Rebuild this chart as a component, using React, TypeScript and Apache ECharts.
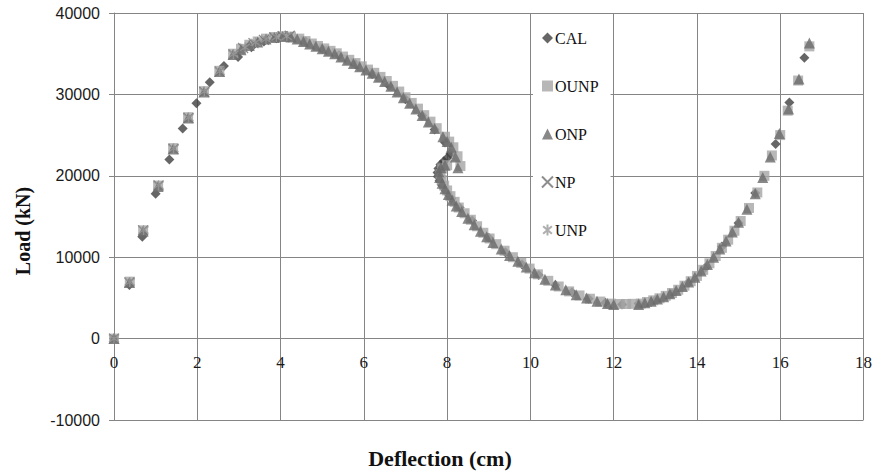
import React, { useEffect, useRef } from "react";
import * as echarts from "echarts";

const xTicks = { min: 0, max: 18, interval: 2 };
const yTicks = { min: -10000, max: 40000, interval: 10000 };

const seriesNames = ["CAL", "OUNP", "ONP", "NP", "UNP"];

const calData: number[][] = [
  [0, 0], [0.37, 6600], [0.68, 12500], [1.0, 17800], [1.33, 22000], [1.65, 25800], [1.98, 28900],
  [2.3, 31500], [2.64, 33500], [2.98, 34600], [3.3, 35800], [3.6, 36500], [3.9, 36900], [4.2, 37000],
  [4.6, 36500], [5.0, 35600], [5.4, 34800], [5.8, 33700], [6.2, 32500], [6.6, 31100], [7.0, 29400],
  [7.4, 27400], [7.7, 25700], [7.95, 24100], [8.08, 22700], [8.0, 22200], [7.92, 21800], [7.84, 21400],
  [7.79, 20900], [7.77, 20400], [7.78, 19900], [7.82, 19400], [7.87, 18900], [7.93, 18400], [8.0, 17900],
  [8.1, 17200], [8.3, 16100], [8.6, 14500], [9.0, 12400], [9.4, 10600], [9.8, 9100], [10.2, 7800],
  [10.6, 6600], [11.0, 5700], [11.4, 4900], [11.8, 4400], [12.2, 4200], [12.6, 4300], [13.0, 4700],
  [13.4, 5500], [13.8, 6900], [14.2, 8700], [14.6, 11300], [15.0, 14200], [15.4, 17900], [15.89, 23900],
  [16.22, 29000], [16.58, 34500],
];

const ounpData: number[][] = [
  [0, 0], [0.38, 7000], [0.7, 13300], [1.06, 18800], [1.42, 23400], [1.78, 27200], [2.16, 30400],
  [2.53, 32900], [2.86, 35000], [3.05, 35600], [3.25, 36100], [3.45, 36500], [3.65, 36850], [3.85, 37050],
  [4.05, 37150], [4.25, 37100], [4.45, 36850], [4.6, 36550], [4.75, 36250], [4.9, 35950], [5.05, 35650],
  [5.2, 35350], [5.35, 35050], [5.5, 34650], [5.65, 34250], [5.8, 33850], [5.95, 33450], [6.1, 33050],
  [6.25, 32650], [6.4, 32150], [6.55, 31650], [6.7, 31050], [6.85, 30350], [7.0, 29650], [7.15, 28950],
  [7.3, 28250], [7.45, 27450], [7.6, 26650], [7.75, 25850], [7.95, 24800], [8.05, 24200], [8.15, 23500],
  [8.25, 22400], [8.32, 21200], [8.0, 21300], [7.88, 20900], [7.84, 20200], [7.87, 19500], [7.93, 18800],
  [8.0, 18200], [8.08, 17500], [8.18, 16800], [8.28, 16100], [8.42, 15400], [8.57, 14600], [8.72, 13800],
  [8.87, 13000], [9.02, 12300], [9.18, 11600], [9.38, 10800], [9.58, 10000], [9.78, 9300], [9.98, 8600],
  [10.18, 7900], [10.43, 7100], [10.68, 6400], [10.93, 5800], [11.18, 5300], [11.43, 4900], [11.68, 4550],
  [11.93, 4300], [12.15, 4250], [12.3, 4250], [12.45, 4270], [12.65, 4300], [12.8, 4500], [12.95, 4700],
  [13.1, 4950], [13.25, 5250], [13.4, 5600], [13.55, 6000], [13.7, 6500], [13.85, 7050], [14.0, 7700],
  [14.15, 8450], [14.3, 9250], [14.45, 10150], [14.6, 11150], [14.75, 12150], [14.9, 13250], [15.05, 14450],
  [15.25, 16050], [15.45, 17950], [15.62, 20000], [15.8, 22500], [16.0, 25000], [16.18, 28000],
  [16.43, 31700], [16.7, 35900],
];

const onpData: number[][] = [
  [0, 0], [0.37, 6900], [0.7, 13200], [1.06, 18700], [1.42, 23300], [1.78, 27100], [2.16, 30300],
  [2.53, 32800], [2.86, 34900], [3.05, 35500], [3.25, 36000], [3.45, 36450], [3.65, 36800], [3.85, 37000],
  [4.05, 37100], [4.25, 37050], [4.4, 36800], [4.55, 36500], [4.7, 36200], [4.85, 35900], [5.0, 35600],
  [5.15, 35300], [5.3, 35000], [5.45, 34600], [5.6, 34200], [5.75, 33800], [5.9, 33400], [6.05, 33000],
  [6.2, 32600], [6.35, 32100], [6.5, 31600], [6.65, 31000], [6.8, 30300], [6.95, 29600], [7.1, 28900],
  [7.25, 28200], [7.4, 27400], [7.55, 26600], [7.7, 25800], [7.9, 24800], [8.0, 24200], [8.1, 23500],
  [8.2, 22300], [8.26, 21000], [7.95, 21300], [7.85, 21000], [7.8, 20500], [7.82, 19800], [7.88, 19100],
  [7.95, 18400], [8.03, 17700], [8.12, 17000], [8.22, 16300], [8.35, 15600], [8.5, 14800], [8.65, 14000],
  [8.8, 13200], [8.95, 12500], [9.1, 11800], [9.3, 11000], [9.5, 10200], [9.7, 9500], [9.9, 8800],
  [10.1, 8100], [10.35, 7300], [10.6, 6600], [10.85, 6000], [11.1, 5400], [11.35, 5000], [11.6, 4600],
  [11.85, 4300], [12.0, 4200], [12.6, 4200], [12.75, 4400], [12.9, 4600], [13.05, 4850], [13.2, 5150],
  [13.35, 5500], [13.5, 5900], [13.65, 6400], [13.8, 6950], [13.95, 7550], [14.1, 8300], [14.25, 9100],
  [14.4, 10000], [14.55, 11000], [14.7, 12000], [14.85, 13100], [15.0, 14300], [15.2, 15900],
  [15.4, 17800], [15.58, 19800], [15.76, 22300], [15.98, 25200], [16.2, 28200], [16.45, 31900],
  [16.7, 36300],
];

const npData: number[][] = [
  [0, 0], [0.37, 6900], [0.7, 13300], [1.07, 18800], [1.43, 23300], [1.79, 27100], [2.17, 30300],
  [2.54, 32800], [2.87, 34900], [3.1, 35700], [3.35, 36300], [3.6, 36700], [3.85, 37000], [4.05, 37150],
  [4.22, 37200],
];

const unpData: number[][] = [
  [0, 0], [0.38, 6950], [0.71, 13350], [1.07, 18850], [1.43, 23350], [1.79, 27150], [2.17, 30350],
  [2.54, 32850], [2.87, 34950], [3.15, 35800], [3.4, 36400], [3.65, 36800], [3.9, 37050], [4.15, 37150],
];

const xTitle = "Deflection (cm)";
const yTitle = "Load (kN)";

const gridColor = "#858585";

export default function App() {
  const ref = useRef<HTMLDivElement>(null);
  useEffect(() => {
    if (!ref.current) return;
    const chart = echarts.init(ref.current, undefined, { renderer: "svg" });
    const gridTop = 13;
    const gridBottomPx = 420;
    const plotH = gridBottomPx - gridTop;
    const zeroOffset = (plotH * (0 - yTicks.min)) / (yTicks.max - yTicks.min);
    const option: any = {
      animation: false,
      backgroundColor: "#ffffff",
      grid: { left: 114, right: 11, top: gridTop, bottom: 471 - gridBottomPx },
      xAxis: {
        type: "value",
        min: xTicks.min,
        max: xTicks.max,
        interval: xTicks.interval,
        offset: -zeroOffset,
        axisLine: { onZero: false, lineStyle: { color: gridColor, width: 1 } },
        axisTick: { show: false },
        axisLabel: {
          margin: 15,
          fontFamily: "Liberation Serif",
          fontSize: 17,
          color: "#1a1a1a",
        },
        splitLine: { show: true, lineStyle: { color: gridColor, width: 1 } },
      },
      yAxis: {
        type: "value",
        min: yTicks.min,
        max: yTicks.max,
        interval: yTicks.interval,
        axisLine: { show: true, onZero: false, lineStyle: { color: gridColor, width: 1 } },
        axisTick: { show: true, length: 5, lineStyle: { color: gridColor } },
        axisLabel: {
          margin: 14,
          fontFamily: "Liberation Sans",
          fontSize: 16,
          color: "#1a1a1a",
          formatter: (v: number) => String(v),
        },
        splitLine: { show: true, lineStyle: { color: gridColor, width: 1 } },
      },
      legend: {
        data: seriesNames,
        orient: "vertical",
        left: 533,
        top: 18,
        padding: [12, 12, 14, 8],
        backgroundColor: "#ffffff",
        itemGap: 32,
        itemWidth: 11,
        itemHeight: 11,
        textStyle: { fontFamily: "Liberation Serif", fontSize: 16, color: "#111", padding: [0, 0, 0, -3] },
      },
      graphic: [
        {
          type: "text",
          x: 23,
          y: 231,
          rotation: Math.PI / 2,
          style: {
            text: yTitle,
            fontFamily: "Liberation Serif",
            fontWeight: "bold",
            fontSize: 20,
            fill: "#111",
            align: "center",
            verticalAlign: "middle",
          },
        },
        {
          type: "text",
          x: 440,
          y: 458,
          style: {
            text: xTitle,
            fontFamily: "Liberation Serif",
            fontWeight: "bold",
            fontSize: 22,
            fill: "#111",
            align: "center",
            verticalAlign: "middle",
          },
        },
      ],
      series: [
        {
          name: "CAL",
          type: "scatter",
          data: calData,
          symbol: "diamond",
          symbolSize: 10,
          itemStyle: { color: "#404040" },
        },
        {
          name: "OUNP",
          type: "scatter",
          data: ounpData,
          symbol: "rect",
          symbolSize: 10,
          itemStyle: { color: "#a5a5a5" },
        },
        {
          name: "ONP",
          type: "scatter",
          data: onpData,
          symbol: "triangle",
          symbolSize: 11,
          itemStyle: { color: "#6a6a6a" },
        },
        {
          name: "NP",
          type: "scatter",
          data: npData,
          symbol: "path://M0,0L10,10M10,0L0,10",
          symbolSize: 10,
          itemStyle: { color: "transparent", borderColor: "#707070", borderWidth: 1.3 },
        },
        {
          name: "UNP",
          type: "scatter",
          data: unpData,
          symbol: "path://M5,0L5,10M1,1.5L9,8.5M9,1.5L1,8.5",
          symbolSize: 10,
          itemStyle: { color: "transparent", borderColor: "#9a9a9a", borderWidth: 1.3 },
        },
      ],
    };
    chart.setOption(option);
    return () => chart.dispose();
  }, []);
  return <div ref={ref} style={{ width: 875, height: 471, position: "absolute", left: 0, top: 0 }} />;
}
